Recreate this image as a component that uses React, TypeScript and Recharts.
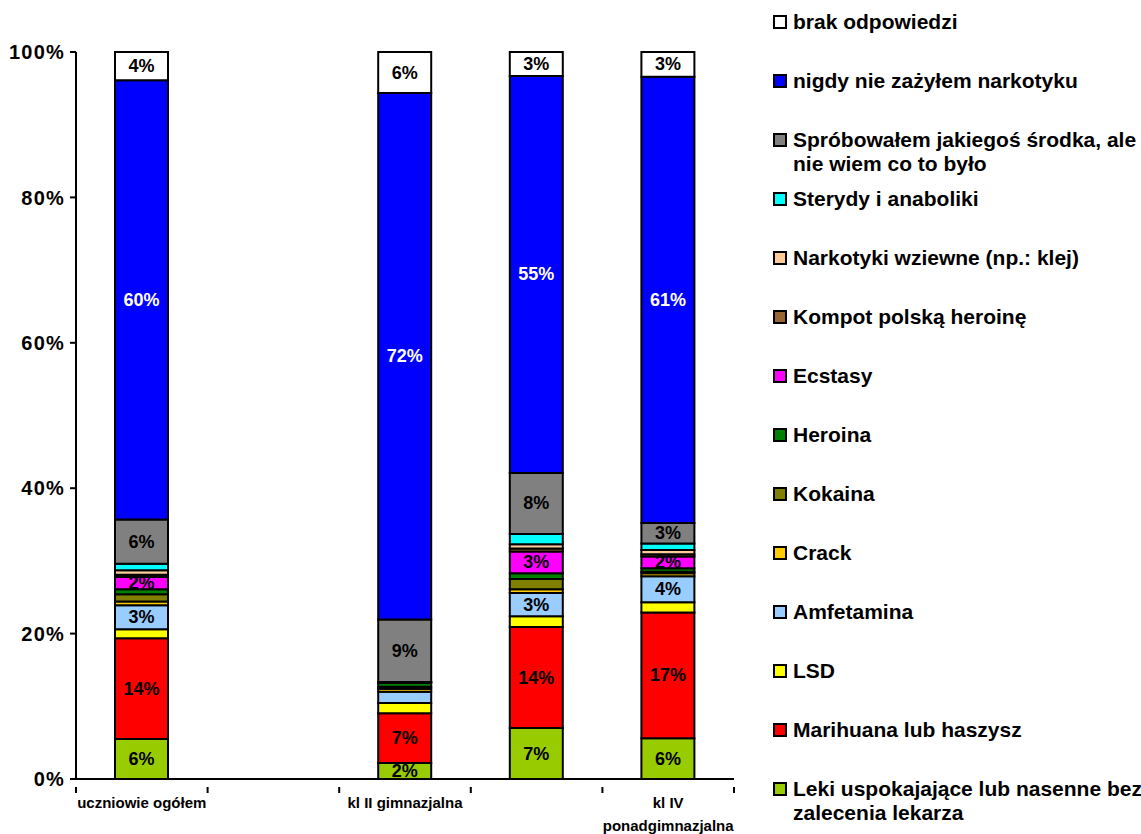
import { Bar, BarChart, LabelList, Legend, Text, XAxis, YAxis } from "recharts";

const FONT = '"Liberation Sans", Arial, sans-serif';

// columns; the 2nd slot is an empty gap, the 4th label is hidden
const categories = ["uczniowie ogółem", "", "kl II gimnazjalna", "", "kl IV ponadgimnazjalna"];

// shares in % per column (bottom of the stack first)
const leki = [5.5, null, 2.2, 7.0, 5.6];
const marihuana = [13.85, null, 6.85, 13.9, 17.3];
const lsd = [1.25, null, 1.4, 1.5, 1.4];
const amfetamina = [3.3, null, 1.55, 3.2, 3.6];
const crack = [0.5, null, 0.4, 0.5, 0.4];
const kokaina = [1.0, null, 0.3, 1.4, 0.2];
const heroina = [0.7, null, 0.5, 0.8, 0.5];
const ecstasy = [1.7, null, 0.1, 3.0, 1.6];
const kompot = [0.3, null, 0, 0.4, 0.3];
const wziewne = [0.6, null, 0, 0.6, 0.6];
const sterydy = [0.9, null, 0.05, 1.4, 0.9];
const sprobowalem = [6.1, null, 8.6, 8.4, 2.8];
const nigdy = [60.4, null, 72.4, 54.6, 61.4];
const brak = [3.9, null, 5.65, 3.3, 3.4];

const yTicks = [0, 20, 40, 60, 80, 100];

type Series = {
  key: string;
  name: string;
  color: string;
  labelColor: string;
  values: (number | null)[];
};

const SERIES: Series[] = [
  { key: "leki", name: "Leki uspokajające lub nasenne bez zalecenia lekarza", color: "#99CC00", labelColor: "#000", values: leki },
  { key: "marihuana", name: "Marihuana lub haszysz", color: "#FF0000", labelColor: "#000", values: marihuana },
  { key: "lsd", name: "LSD", color: "#FFFF00", labelColor: "#000", values: lsd },
  { key: "amfetamina", name: "Amfetamina", color: "#99CCFF", labelColor: "#000", values: amfetamina },
  { key: "crack", name: "Crack", color: "#FFCC00", labelColor: "#000", values: crack },
  { key: "kokaina", name: "Kokaina", color: "#808000", labelColor: "#000", values: kokaina },
  { key: "heroina", name: "Heroina", color: "#008000", labelColor: "#000", values: heroina },
  { key: "ecstasy", name: "Ecstasy", color: "#FF00FF", labelColor: "#000", values: ecstasy },
  { key: "kompot", name: "Kompot polską heroinę", color: "#996633", labelColor: "#000", values: kompot },
  { key: "wziewne", name: "Narkotyki wziewne (np.: klej)", color: "#FFCC99", labelColor: "#000", values: wziewne },
  { key: "sterydy", name: "Sterydy i anaboliki", color: "#00FFFF", labelColor: "#000", values: sterydy },
  { key: "sprobowalem", name: "Spróbowałem jakiegoś środka, ale nie wiem co to było", color: "#808080", labelColor: "#000", values: sprobowalem },
  { key: "nigdy", name: "nigdy nie zażyłem narkotyku", color: "#0000FF", labelColor: "#FFF", values: nigdy },
  { key: "brak", name: "brak odpowiedzi", color: "#FFFFFF", labelColor: "#000", values: brak },
];

const data = categories.map((category, i) => {
  const row: Record<string, string | number | null> = { category };
  SERIES.forEach((s) => {
    row[s.key] = s.values[i];
  });
  return row;
});

// small slices stay unlabelled
const LABEL_MIN = 1.6;

function SegmentLabel(props: any) {
  const { x, y, width, height, value, color } = props;
  if (value == null || value < LABEL_MIN) return null;
  return (
    <text
      x={x + width / 2}
      y={y + height / 2}
      textAnchor="middle"
      dominantBaseline="central"
      fill={color}
      fontFamily={FONT}
      fontWeight="bold"
      fontSize={18}
    >
      {Math.round(value)}%
    </text>
  );
}

// Excel-style category axis: tick marks on the boundaries, labels centred
function CategoryTick(props: any) {
  const { x, y, payload, index, visibleTicksCount } = props;
  const left = payload.coordinate - payload.offset;
  const right = payload.coordinate + payload.offset;
  const isLast = index === visibleTicksCount - 1;
  return (
    <g>
      <line x1={left} y1={y} x2={left} y2={y + 6} stroke="#000" strokeWidth={2} />
      {isLast && <line x1={right} y1={y} x2={right} y2={y + 6} stroke="#000" strokeWidth={2} />}
      {payload.value && (
        <Text
          x={x}
          y={y + 21}
          width={118}
          textAnchor="middle"
          verticalAnchor="middle"
          lineHeight={23}
          fontFamily={FONT}
          fontWeight="bold"
          fontSize={15}
          fill="#000"
        >
          {payload.value}
        </Text>
      )}
    </g>
  );
}

function LegendList() {
  return (
    <div style={{ fontFamily: FONT, fontWeight: "bold", fontSize: 21, color: "#000" }}>
      {[...SERIES].reverse().map((s) => (
        <div key={s.key} style={{ height: 59, display: "flex", alignItems: "flex-start" }}>
          <span
            style={{
              width: 10,
              height: 10,
              border: "2px solid #000",
              background: s.color,
              marginTop: 5,
              marginRight: 6,
              flexShrink: 0,
            }}
          />
          <span style={{ lineHeight: "24px", width: 354 }}>{s.name}</span>
        </div>
      ))}
    </div>
  );
}

export default function App() {
  return (
    <div style={{ position: "absolute", left: 0, top: 0, background: "#fff" }}>
      <BarChart
        width={1141}
        height={834}
        data={data}
        barSize={53}
        margin={{ top: 52, right: 33, bottom: 5, left: 6 }}
      >
        <YAxis
          type="number"
          domain={[0, 100]}
          ticks={yTicks}
          width={70}
          tickFormatter={(v: number) => `${v}%`}
          tick={{ fontFamily: FONT, fontWeight: "bold", fontSize: 20, fill: "#000", letterSpacing: 1.2 }}
          tickLine={{ stroke: "#000", strokeWidth: 2 }}
          tickSize={6}
          tickMargin={5}
          axisLine={{ stroke: "#000", strokeWidth: 2 }}
        />
        <XAxis
          dataKey="category"
          height={50}
          interval={0}
          tick={<CategoryTick />}
          tickLine={false}
          axisLine={{ stroke: "#000", strokeWidth: 2 }}
        />
        <Legend
          layout="vertical"
          align="right"
          verticalAlign="top"
          wrapperStyle={{ left: 773, top: 10, width: 374 }}
          content={() => <LegendList />}
        />
        {SERIES.map((s) => (
          <Bar
            key={s.key}
            dataKey={s.key}
            name={s.name}
            stackId="a"
            fill={s.color}
            stroke="#000"
            strokeWidth={2}
            isAnimationActive={false}
          >
            <LabelList dataKey={s.key} content={(p: any) => <SegmentLabel {...p} color={s.labelColor} />} />
          </Bar>
        ))}
      </BarChart>
    </div>
  );
}
